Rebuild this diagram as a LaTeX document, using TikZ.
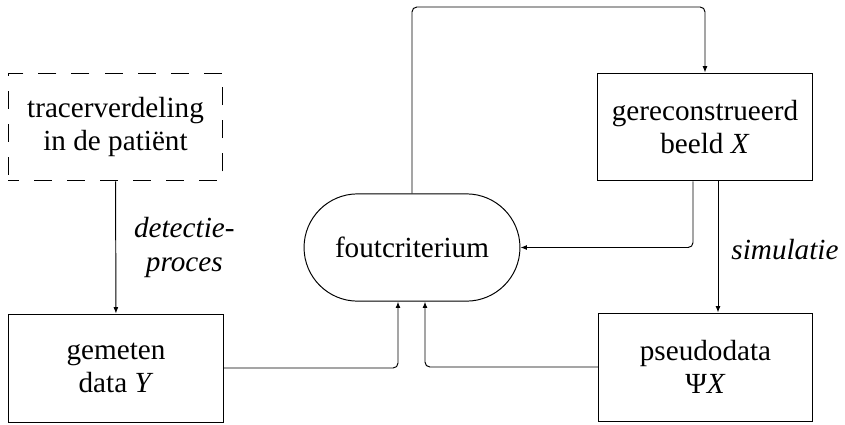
\documentclass[tikz,border=0pt]{standalone}
\usepackage{fontspec}
\setmainfont{Liberation Serif}
\usetikzlibrary{arrows.meta,calc,shapes.misc}
\tikzset{
    blok/.style={
        draw, rectangle, align=center, inner sep=0pt,
        minimum width=3.1cm, minimum height=1.56cm
    },
    vaag/.style={
        blok,
        dash pattern=on 7.4pt off 6.2pt, dash phase=3pt
    },
    criterium/.style={
        draw, rounded rectangle, align=center, inner sep=0pt,
        minimum width=3.12cm, minimum height=1.55cm
    },
    pijl/.style={
        -{Latex[length=2.6pt,width=2pt]},
        rounded corners=2pt
    },
    lijn/.style={
        rounded corners=2pt
    }
}
\begin{document}
\begin{tikzpicture}[x=0.01445cm, y=-0.01445cm, thin,
    font=\fontsize{12pt}{13.7pt}\selectfont]
\useasboundingbox (0,0) rectangle (845,424);

% blokken
\node[vaag] (patient) at (115.5,127) {tracerverdeling\\in de patiënt};
\node[blok] (gemeten) at (116,368) {gemeten\\data \textit{Y}};
\node[criterium] (fout) at (412,247.5) {foutcriterium};
\node[blok] (recon) at (705,127) {gereconstrueerd\\beeld \textit{X}};
\node[blok] (pseudo) at (705.5,367) {pseudodata\\Ψ\textit{X}};

% hulppunten
\coordinate (lus) at (560,7);
\coordinate (terug) at ($(recon.south)+(-12,0)$);
\coordinate (sim) at ($(recon.south)+(13,0)$);

% verbindingen
\draw[pijl] (patient) -- (gemeten)
    node[midway, right, align=center, xshift=4pt] {\textit{detectie-}\\\textit{proces}};
\draw[pijl] (gemeten.east) -| ($(fout.south)+(-14,0)$);
\draw[pijl] (pseudo.west) -| ($(fout.south)+(13,0)$);
\draw[pijl] (fout.north) |- (lus) -| (recon.north);
\draw[pijl] (terug) |- (fout.east);
\draw[pijl] (sim) -- (sim |- pseudo.north)
    node[midway, right, xshift=2pt, yshift=-1pt] {\textit{simulatie}};
\end{tikzpicture}
\end{document}
